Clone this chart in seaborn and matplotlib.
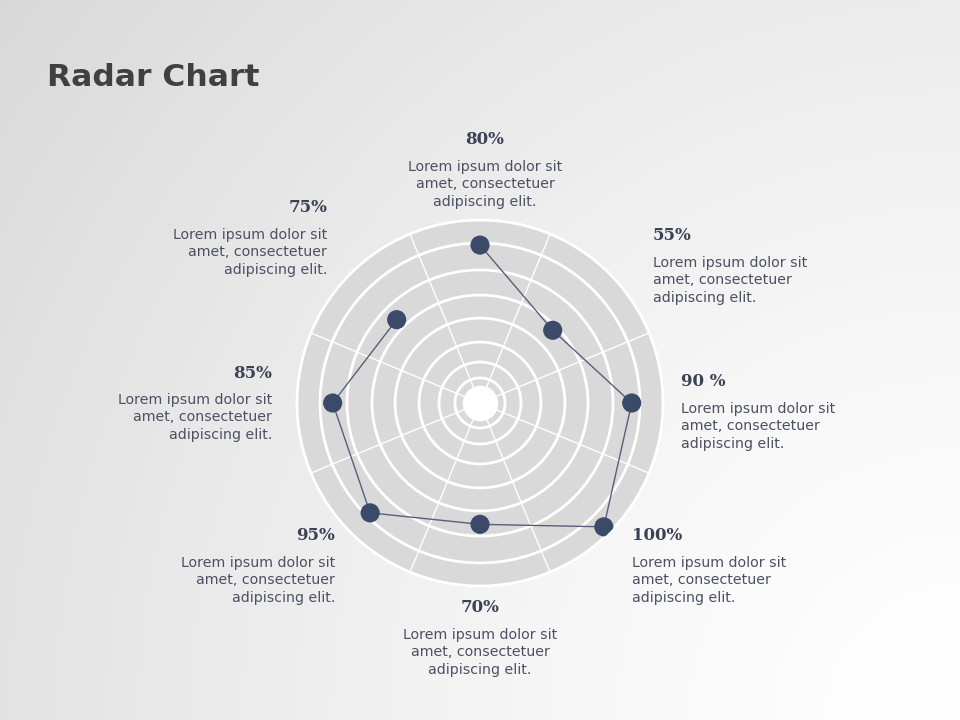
import numpy as np
import pandas as pd
import matplotlib
matplotlib.use("Agg")
import matplotlib.pyplot as plt
import seaborn as sns

# values (radius on a 0-100 scale of the disc)
pct_labels = ["80%", "55%", "90 %", "100%", "70%", "95%", "85%", "75%"]
radius = [86.3, 56.2, 82.9, 95.7, 66.3, 84.9, 80.5, 64.4]
axis_deg = [0, 45, 90, 135, 180, 225, 270, 315]
ring_r = [13.7, 22.4, 33.3, 46.4, 59.0, 72.7, 87.4]
hole_r = 9.3
spoke_deg = [22.5, 67.5, 112.5, 157.5, 202.5, 247.5, 292.5, 337.5]
body_text = "Lorem ipsum dolor sit\namet, consectetuer\nadipiscing elit."

# text anchors in pixels (x, label centre y, alignment)
label_pos = [(485, 140, "center"), (653, 236, "left"), (681, 382, "left"),
             (632, 536, "left"), (480, 608, "center"), (335, 536, "right"),
             (272, 373, "right"), (327, 208, "right")]

sns.set_theme(style="white")
W, H = 960, 720
fig = plt.figure(figsize=(9.6, 7.2), dpi=100)

# soft grey background, lightest in the bottom-right corner
bg = fig.add_axes([0, 0, 1, 1], zorder=0)
xx, yy = np.meshgrid(np.linspace(0, W, 480), np.linspace(0, H, 360))
d = np.hypot(W - xx, H - yy) / np.hypot(W, H)
shade = 1.0 - 0.15 * d ** 1.36
bg.imshow(np.dstack([shade] * 3), extent=[0, 1, 0, 1], aspect="auto",
          origin="upper", interpolation="bilinear")
bg.axis("off")

# radar disc
cx, cy, R = 480, 403, 183
ax = fig.add_axes([(cx - R) / W, (H - cy - R) / H, 2 * R / W, 2 * R / H],
                  projection="polar", zorder=1)
ax.set_theta_zero_location("N")
ax.set_theta_direction(-1)
ax.set_facecolor("#d9d9d9")

theta_full = np.linspace(0, 2 * np.pi, 300)
ax.fill_between(theta_full, 0, hole_r, color="white", zorder=2)

df = pd.DataFrame({"theta": np.deg2rad(axis_deg + [axis_deg[0]]),
                   "r": radius + [radius[0]]})
sns.lineplot(data=df, x="theta", y="r", sort=False, color="#56607a",
             linewidth=1, ax=ax, zorder=3)
sns.scatterplot(x=np.deg2rad(axis_deg), y=radius, s=190, color="#3c4a69",
                edgecolor="none", ax=ax, zorder=4)

ax.set_ylim(0, 100)
ax.set_yticks(ring_r)
ax.set_yticklabels([])
ax.set_xticks(np.deg2rad(spoke_deg))
ax.set_xticklabels([])
ax.set_xlabel("")
ax.set_ylabel("")
ax.yaxis.grid(True, color="white", linewidth=2)
ax.xaxis.grid(True, color="white", linewidth=1)
ax.spines["polar"].set_color("white")
ax.spines["polar"].set_linewidth(2)

# labels
for lab, (x, y, ha) in zip(pct_labels, label_pos):
    fig.text(x / W, 1 - y / H, lab, ha=ha, va="center", fontsize=12,
             fontweight="bold", family="DejaVu Serif", color="#3a4254")
    fig.text(x / W, 1 - (y + 20) / H, body_text, ha=ha, va="top",
             multialignment=ha, fontsize=10.2, color="#4b5162",
             linespacing=1.3)

fig.text(47 / W, 1 - 77 / H, "Radar Chart", ha="left", va="center",
         fontsize=22.6, fontweight="bold", color="#404040")

fig.savefig("out.png", dpi=100)
